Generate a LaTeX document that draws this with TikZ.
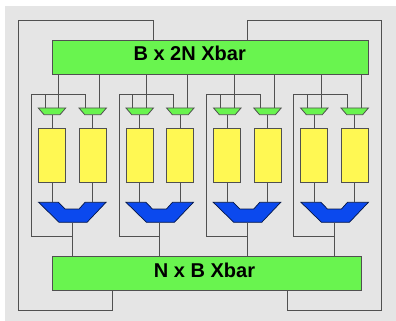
\documentclass[tikz,border=0pt]{standalone}
\usepackage{fontspec}
\setmainfont{Liberation Sans}
\definecolor{panelgray}{HTML}{E5E5E5}
\definecolor{wiregray}{HTML}{505050}
\definecolor{xbargreen}{HTML}{69F44F}
\definecolor{bufyellow}{HTML}{FFF853}
\definecolor{muxblue}{HTML}{0B49EE}
\tikzset{
	wire/.style={draw=wiregray, line width=0.9pt},
	xbar/.style={draw=wiregray, line width=0.9pt, fill=xbargreen, inner sep=0pt, minimum height=34pt},
	xbarlabel/.style={anchor=base, inner sep=0pt, font=\bfseries\fontsize{20}{24}\selectfont},
	buf/.style={draw=wiregray, line width=0.9pt, fill=bufyellow, inner sep=0pt, minimum width=27pt, minimum height=54.3pt},
	smallbox/.style={inner sep=0pt, minimum width=27.5pt, minimum height=6.7pt},
	bigbox/.style={inner sep=0pt, minimum width=67.5pt, minimum height=20pt}
}
% green mux: name, x of centre
\newcommand{\greenmux}[2]{
	\node[smallbox] (#1) at (#2,111.3) {};
	\draw[draw=wiregray, line width=0.8pt, fill=xbargreen, shift={(#2,111.3)}]
		(-13.75,-3.35) -- (-8,3.35) -- (8,3.35) -- (13.75,-3.35) -- cycle;
}
% blue mux: name, x of centre
\newcommand{\bluemux}[2]{
	\node[bigbox] (#1) at (#2,212.3) {};
	\draw[draw=black!70!muxblue, line width=0.7pt, fill=muxblue, shift={(#2,212.3)}]
		(-33.75,-10) -- (-13.25,10) -- (14.75,10) -- (33.75,-10) -- (12.75,-10)
		-- (6.75,-3.3) -- (-7.25,-3.3) -- (-13.75,-10) -- cycle;
}
\begin{document}
\begin{tikzpicture}[x=1pt, y=-1pt]
	\useasboundingbox (0,0) rectangle (396,321);
	\fill[panelgray] (5,6) rectangle (396,321);

	\node[xbar, minimum width=316.7pt] (topbar) at (210.3,57.5) {};
	\node[xbar, minimum width=309.7pt] (botbar) at (206.85,273) {};
	\node[xbarlabel] (toplabel) at (189.7,61) {B x 2N Xbar};
	\node[xbarlabel] (botlabel) at (204.5,277) {N x B Xbar};

	% first group
	\greenmux{sma1}{52}
	\greenmux{smb1}{92.7}
	\node[buf] (bufa1) at (52,155.2) {};
	\node[buf] (bufb1) at (92.7,155.2) {};
	\bluemux{mux1}{72.3}
	% second group
	\greenmux{sma2}{139.7}
	\greenmux{smb2}{180.3}
	\node[buf] (bufa2) at (139.7,155.2) {};
	\node[buf] (bufb2) at (180.3,155.2) {};
	\bluemux{mux2}{159.7}
	% third group
	\greenmux{sma3}{227.3}
	\greenmux{smb3}{267.5}
	\node[buf] (bufa3) at (227.3,155.2) {};
	\node[buf] (bufb3) at (267.5,155.2) {};
	\bluemux{mux3}{247}
	% fourth group
	\greenmux{sma4}{314.3}
	\greenmux{smb4}{354.7}
	\node[buf] (bufa4) at (314.3,155.2) {};
	\node[buf] (bufb4) at (354.7,155.2) {};
	\bluemux{mux4}{334.7}

	% corners and joints
	\coordinate (ctl) at (18.5,20.5);
	\coordinate (cbl) at (18.5,310);
	\coordinate (ctr) at (381.7,20.5);
	\coordinate (cbr) at (381.7,310);
	\coordinate (fb1) at (31.7,94.3);
	\coordinate (fb2) at (119.3,94.3);
	\coordinate (fb3) at (206.7,94.3);
	\coordinate (fb4) at (293.7,94.3);
	\coordinate (join1) at (72.3,236.3);
	\coordinate (join2) at (159.7,236.3);
	\coordinate (join3) at (247,236.3);
	\coordinate (join4) at (334.7,236.3);

	\draw[wire] ([xshift=-57.3pt]topbar.north) |- (ctl) -- (cbl) -| ([xshift=-94.15pt]botbar.south);
	\draw[wire] ([xshift=36.7pt]topbar.north) |- (ctr) -- (cbr) -| ([xshift=80.85pt]botbar.south);

	\draw[wire] ([xshift=6.8pt]sma1.north) -- ([xshift=6.8pt]sma1.north |- topbar.south);
	\draw[wire] ([xshift=6.8pt]smb1.north) -- ([xshift=6.8pt]smb1.north |- topbar.south);
	\draw[wire] (sma1.south) -- (bufa1.north);
	\draw[wire] (smb1.south) -- (bufb1.north);
	\draw[wire] (bufa1.south) -- (bufa1.south |- mux1.north);
	\draw[wire] (bufb1.south) -- (bufb1.south |- mux1.north);
	\draw[wire] (mux1.south) -- (mux1.south |- botbar.north);
	\draw[wire] (join1) -| (fb1) -| ([xshift=-6.8pt]smb1.north);
	\draw[wire] ([xshift=-6.8pt]sma1.north) -- ([xshift=-6.8pt]sma1.north |- fb1);

	\draw[wire] ([xshift=6.8pt]sma2.north) -- ([xshift=6.8pt]sma2.north |- topbar.south);
	\draw[wire] ([xshift=6.8pt]smb2.north) -- ([xshift=6.8pt]smb2.north |- topbar.south);
	\draw[wire] (sma2.south) -- (bufa2.north);
	\draw[wire] (smb2.south) -- (bufb2.north);
	\draw[wire] (bufa2.south) -- (bufa2.south |- mux2.north);
	\draw[wire] (bufb2.south) -- (bufb2.south |- mux2.north);
	\draw[wire] (mux2.south) -- (mux2.south |- botbar.north);
	\draw[wire] (join2) -| (fb2) -| ([xshift=-6.8pt]smb2.north);
	\draw[wire] ([xshift=-6.8pt]sma2.north) -- ([xshift=-6.8pt]sma2.north |- fb2);

	\draw[wire] ([xshift=6.8pt]sma3.north) -- ([xshift=6.8pt]sma3.north |- topbar.south);
	\draw[wire] ([xshift=6.8pt]smb3.north) -- ([xshift=6.8pt]smb3.north |- topbar.south);
	\draw[wire] (sma3.south) -- (bufa3.north);
	\draw[wire] (smb3.south) -- (bufb3.north);
	\draw[wire] (bufa3.south) -- (bufa3.south |- mux3.north);
	\draw[wire] (bufb3.south) -- (bufb3.south |- mux3.north);
	\draw[wire] (mux3.south) -- (mux3.south |- botbar.north);
	\draw[wire] (join3) -| (fb3) -| ([xshift=-6.8pt]smb3.north);
	\draw[wire] ([xshift=-6.8pt]sma3.north) -- ([xshift=-6.8pt]sma3.north |- fb3);

	\draw[wire] ([xshift=6.8pt]sma4.north) -- ([xshift=6.8pt]sma4.north |- topbar.south);
	\draw[wire] ([xshift=6.8pt]smb4.north) -- ([xshift=6.8pt]smb4.north |- topbar.south);
	\draw[wire] (sma4.south) -- (bufa4.north);
	\draw[wire] (smb4.south) -- (bufb4.north);
	\draw[wire] (bufa4.south) -- (bufa4.south |- mux4.north);
	\draw[wire] (bufb4.south) -- (bufb4.south |- mux4.north);
	\draw[wire] (mux4.south) -- (mux4.south |- botbar.north);
	\draw[wire] (join4) -| (fb4) -| ([xshift=-6.8pt]smb4.north);
	\draw[wire] ([xshift=-6.8pt]sma4.north) -- ([xshift=-6.8pt]sma4.north |- fb4);
\end{tikzpicture}
\end{document}
